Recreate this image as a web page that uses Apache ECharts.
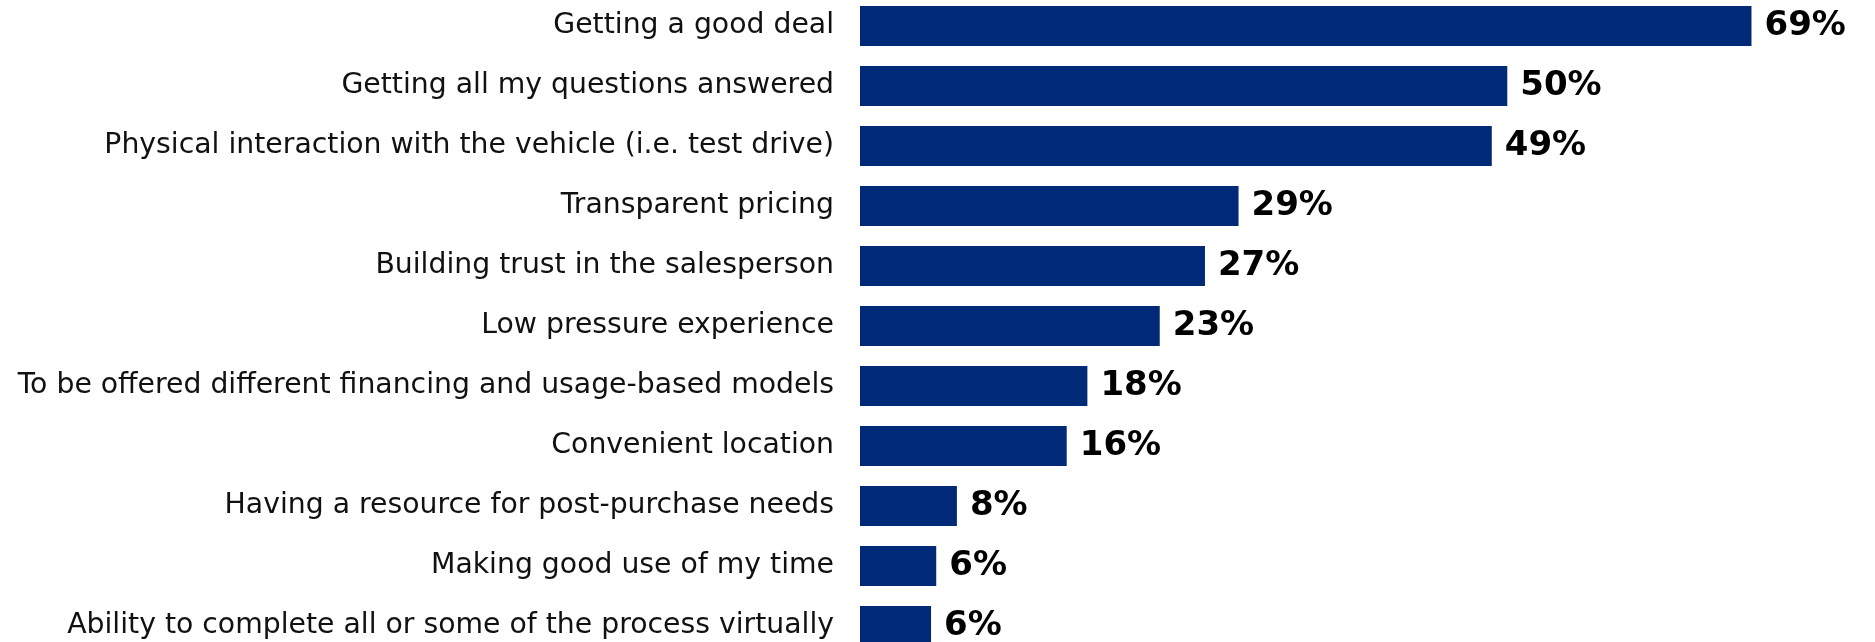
<!DOCTYPE html>
<html>
<head>
<meta charset="utf-8">
<script src="https://cdn.jsdelivr.net/npm/echarts@6/dist/echarts.min.js"></script>
<style>
  html, body { margin: 0; padding: 0; background: #fff; }
  #chart { width: 1875px; height: 642px; }
</style>
</head>
<body>
<div id="chart"></div>
<script>
// values, labels show them rounded
var categories = [
  "Getting a good deal",
  "Getting all my questions answered",
  "Physical interaction with the vehicle (i.e. test drive)",
  "Transparent pricing",
  "Building trust in the salesperson",
  "Low pressure experience",
  "To be offered different financing and usage-based models",
  "Convenient location",
  "Having a resource for post-purchase needs",
  "Making good use of my time",
  "Ability to complete all or some of the process virtually"
];
var shares = [69, 50.1, 48.9, 29.3, 26.7, 23.2, 17.6, 16.0, 7.5, 5.9, 5.5];

var chart = echarts.init(document.getElementById("chart"));
chart.setOption({
  animation: false,
  grid: {
    left: 860,
    top: -4,
    width: 1292,
    height: 660,
    outerBoundsMode: "none",
    containLabel: false,
  },
  xAxis: {
    type: "value",
    min: 0,
    max: 100,
    show: false,
  },
  yAxis: {
    type: "category",
    inverse: true,
    data: categories,
    axisLine: { show: false },
    axisTick: { show: false },
    axisLabel: {
      margin: 26,
      fontFamily: "DejaVu Sans",
      fontSize: 28.3,
      color: "#111",
      padding: [4, 0, 0, 0],
    },
  },
  series: [
    {
      type: "bar",
      data: shares,
      barWidth: 40,
      itemStyle: { color: "#002a77" },
      label: {
        show: true,
        position: "right",
        distance: 13,
        fontFamily: "DejaVu Sans",
        fontWeight: "bold",
        fontSize: 34,
        color: "#000",
        padding: [4, 0, 0, 0],
        formatter: function (p) {
          return Math.round(p.value) + "%";
        },
      },
    },
  ],
});
</script>
</body>
</html>
